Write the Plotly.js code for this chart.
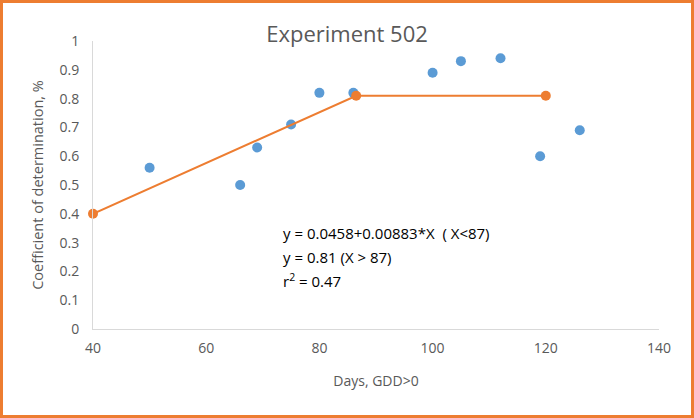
<!DOCTYPE html>
<html><head><meta charset="utf-8">
<script src="https://cdn.plot.ly/plotly-3.0.1.min.js"></script>
<style>
html,body{margin:0;padding:0;background:#fff;}
#wrap{width:694px;height:418px;box-sizing:border-box;border:3px solid #ED7D31;overflow:hidden;}
#chart{width:688px;height:412px;}
</style></head>
<body><div id="wrap"><div id="chart"></div></div>
<script>
const obsDays = [50, 66, 69, 75, 80, 86, 100, 105, 112, 119, 126];
const obsR2   = [0.56, 0.50, 0.63, 0.71, 0.82, 0.82, 0.89, 0.93, 0.94, 0.60, 0.69];
const fitDays = [40, 86.5, 120];
const fitR2   = [0.40, 0.81, 0.81];
const eqLines = ["y = 0.0458+0.00883*X  ( X<87)", "y = 0.81 (X > 87)", "r<sup>2</sup> = 0.47"];

const font = "Open Sans, Liberation Sans, sans-serif";
const data = [
  {x: obsDays, y: obsR2, type: 'scatter', mode: 'markers', cliponaxis: false,
   marker: {color: '#5B9BD5', size: 10}, hoverinfo: 'x+y'},
  {x: fitDays, y: fitR2, type: 'scatter', mode: 'lines+markers', cliponaxis: false,
   line: {color: '#ED7D31', width: 2}, marker: {color: '#ED7D31', size: 10}}
];
const layout = {
  width: 688, height: 412,
  margin: {l: 90, r: 32, t: 38, b: 86},
  paper_bgcolor: '#fff', plot_bgcolor: '#fff',
  showlegend: false,
  font: {family: font, color: '#595959', size: 14},
  title: {text: 'Experiment 502', font: {size: 22, color: '#595959', family: font},
          x: 0.5, xanchor: 'center', yref: 'container', y: 0.925, yanchor: 'middle'},
  xaxis: {range: [40, 140], dtick: 20, tick0: 40, showgrid: false, zeroline: false,
          showline: true, linecolor: '#D9D9D9', linewidth: 1,
          ticks: 'outside', ticklen: 6, tickcolor: 'rgba(0,0,0,0)',
          tickfont: {size: 14, color: '#595959'},
          title: {text: 'Days, GDD>0', font: {size: 14, color: '#595959'}, standoff: 20}},
  yaxis: {range: [0, 1], dtick: 0.1, showgrid: false, zeroline: false,
          showline: true, linecolor: '#D9D9D9', linewidth: 1,
          ticks: 'outside', ticklen: 10, tickcolor: 'rgba(0,0,0,0)',
          tickfont: {size: 14, color: '#595959'},
          title: {text: 'Coefficient of determination, %', font: {size: 14.5, color: '#595959'}, standoff: 12}},
  annotations: eqLines.map((t, i) => ({
    text: t, xref: 'x', yref: 'y', x: 73.3, y: 0.333 - i * 0.083,
    xanchor: 'left', yanchor: 'middle', showarrow: false,
    font: {size: 15, color: '#000', family: font}
  }))
};
Plotly.newPlot('chart', data, layout, {displayModeBar: false, staticPlot: true});
</script></body></html>
